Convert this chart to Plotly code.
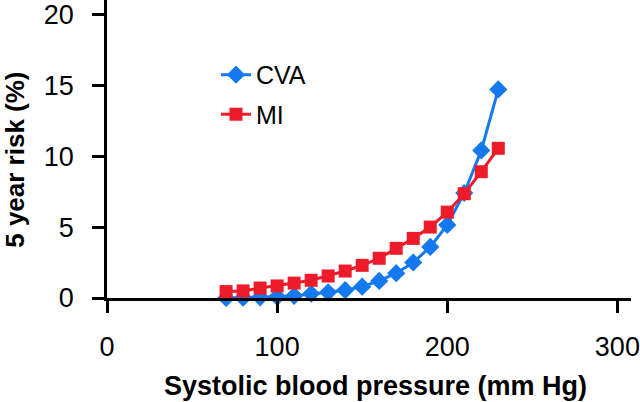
import plotly.graph_objects as go

sbp = [70, 80, 90, 100, 110, 120, 130, 140, 150, 160, 170, 180, 190, 200, 210, 220, 230]
cva = [0.0, 0.02, 0.05, 0.08, 0.15, 0.3, 0.4, 0.55, 0.8, 1.2, 1.75, 2.5, 3.6, 5.15, 7.4, 10.4, 14.7]
mi = [0.45, 0.5, 0.7, 0.85, 1.05, 1.25, 1.55, 1.9, 2.3, 2.8, 3.5, 4.2, 5.0, 6.05, 7.35, 8.9, 10.55]
series_names = ["CVA", "MI"]
x_ticks = [0, 100, 200, 300]
y_ticks = [0, 5, 10, 15, 20]
x_title = "Systolic blood pressure (mm Hg)"
y_title = "5 year risk (%)"

BLUE = "#1478ee"
RED = "#ee1b2b"
FONT = "Liberation Sans, Arial, sans-serif"

fig = go.Figure()
fig.add_trace(go.Scatter(
    x=sbp, y=cva, name=series_names[0], mode="lines+markers",
    legendgroup="a",
    line=dict(color=BLUE, width=3),
    marker=dict(symbol="diamond", size=14, color=BLUE),
    cliponaxis=False,
))
fig.add_trace(go.Scatter(
    x=sbp, y=mi, name=series_names[1], mode="lines+markers",
    legendgroup="b",
    line=dict(color=RED, width=3),
    marker=dict(symbol="square", size=13, color=RED),
    cliponaxis=False,
))

axis_common = dict(
    showline=True, linecolor="black", linewidth=2.5,
    ticks="outside", ticklen=12, tickwidth=2.5, tickcolor="black",
    showgrid=False, zeroline=False, automargin=False,
    ticklabeloverflow="allow",
    tickfont=dict(family=FONT, size=27, color="black"),
)

fig.update_xaxes(
    range=[0, 308], tickvals=x_ticks, ticktext=[str(v) for v in x_ticks],
    ticklabelstandoff=11,
    **axis_common,
)
fig.update_yaxes(
    range=[0, 21], tickvals=y_ticks, ticktext=[str(v) for v in y_ticks],
    ticklabelstandoff=13,
    **axis_common,
)

fig.add_annotation(
    text="<b>" + x_title + "</b>", xref="paper", yref="paper",
    x=0.513, y=-0.295, xanchor="center", yanchor="middle", showarrow=False,
    font=dict(family=FONT, size=27, color="black"),
)
fig.add_annotation(
    text="<b>" + y_title + "</b>", xref="paper", yref="paper",
    x=-0.176, y=0.463, xanchor="center", yanchor="middle", showarrow=False,
    textangle=-90,
    font=dict(family=FONT, size=26, color="black"),
)

fig.update_layout(
    width=640, height=402,
    margin=dict(l=107, r=9, t=0, b=104),
    paper_bgcolor="white", plot_bgcolor="white",
    font=dict(family=FONT, color="black"),
    legend=dict(
        x=0.208, y=0.683, xanchor="left", yanchor="middle",
        font=dict(family=FONT, size=25, color="black"),
        bgcolor="rgba(0,0,0,0)", traceorder="grouped", tracegroupgap=4,
    ),
    showlegend=True,
)

fig.write_html(
    "out.html",
    config={"displayModeBar": False},
    post_script="document.body.style.margin='0';document.body.style.padding='0';",
)
